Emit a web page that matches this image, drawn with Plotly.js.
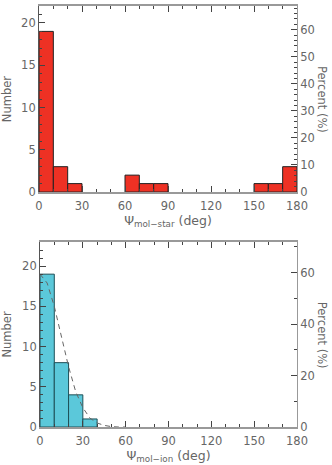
<!DOCTYPE html>
<html>
<head>
<meta charset="utf-8">
<script src="https://cdn.plot.ly/plotly-3.0.1.min.js"></script>
<style>
  html, body { margin: 0; padding: 0; background: #fff; }
  #graph { width: 332px; height: 465px; }
</style>
</head>
<body>
<div id="graph"></div>
<script>
// histogram bins (deg, bin centres) and counts
var starBins = [5, 15, 25, 65, 75, 85, 155, 165, 175];
var starCounts = [19, 3, 1, 2, 1, 1, 1, 1, 3];
var ionBins = [5, 15, 25, 35];
var ionCounts = [19, 8, 4, 1];
// dashed fit
var fitX = [0, 5, 10, 15, 20, 25, 30, 35, 40, 45, 50, 55, 60];
var fitY = [19, 17.9, 15.0, 11.3, 7.5, 4.4, 2.4, 1.1, 0.5, 0.2, 0.05, 0, 0];
var total = 32;

var grey = '#666';
var fnt = {family: 'DejaVu Sans', size: 11.5, color: grey};

function xAx(dom, anchor, title) {
  return {
    domain: dom, anchor: anchor, range: [0, 180], tickvals: [0, 30, 60, 90, 120, 150, 180],
    ticks: 'inside', ticklen: 6, tickcolor: '#444', mirror: 'ticks',
    minor: {dtick: 10, ticks: 'inside', ticklen: 3, tickcolor: '#444'},
    showline: true, linecolor: '#999', linewidth: 2, showgrid: false, zeroline: false,
    tickfont: fnt, ticklabelstandoff: 2,
    title: {text: title, font: {family: 'DejaVu Sans', size: 12.5, color: grey}, standoff: 3}
  };
}
function yAx(dom, anchor, top) {
  return {
    domain: dom, anchor: anchor, range: [0, top], dtick: 5,
    ticks: 'inside', ticklen: 6, tickcolor: '#444',
    minor: {dtick: 1, ticks: 'inside', ticklen: 3, tickcolor: '#444'},
    showline: true, linecolor: '#555', linewidth: 1, showgrid: false, zeroline: false,
    tickfont: fnt,
    title: {text: 'Number', font: {family: 'DejaVu Sans', size: 11.5, color: grey}, standoff: 8}
  };
}
function pAx(ov, anchor, top, dt, mdt) {
  return {
    overlaying: ov, anchor: anchor, side: 'right', range: [0, top * 100 / total], dtick: dt,
    ticks: 'inside', ticklen: 6, tickcolor: '#444',
    minor: {dtick: mdt, ticks: 'inside', ticklen: 3, tickcolor: '#444'},
    showline: true, linecolor: '#999', linewidth: 1, showgrid: false, zeroline: false,
    tickfont: fnt
  };
}

var data = [
  {type: 'bar', x: starBins, y: starCounts, width: 10, xaxis: 'x', yaxis: 'y',
   marker: {color: '#ee3124', line: {color: '#222', width: 1}}, showlegend: false},
  {type: 'scatter', mode: 'lines', x: [0, 180], y: [0, 0], xaxis: 'x', yaxis: 'y2',
   line: {width: 0}, hoverinfo: 'skip', showlegend: false},
  {type: 'bar', x: ionBins, y: ionCounts, width: 10, xaxis: 'x2', yaxis: 'y3',
   marker: {color: '#5bc8da', line: {color: '#1d4f57', width: 1}}, showlegend: false},
  {type: 'scatter', mode: 'lines', x: fitX, y: fitY, xaxis: 'x2', yaxis: 'y3',
   line: {color: '#666', width: 1, dash: '5px,4px'}, showlegend: false},
  {type: 'scatter', mode: 'lines', x: [0, 180], y: [0, 0], xaxis: 'x2', yaxis: 'y4',
   line: {width: 0}, hoverinfo: 'skip', showlegend: false}
];

var layout = {
  width: 332, height: 465,
  margin: {l: 0, r: 0, t: 0, b: 0},
  paper_bgcolor: '#fff', plot_bgcolor: '#fff',
  bargap: 0,
  xaxis: xAx([0.1175, 0.8946], 'y', 'Ψ<sub>mol−star</sub> (deg)'),
  yaxis: yAx([0.587, 0.987], 'x', 22),
  yaxis2: pAx('y', 'x', 22, 10, 2),
  xaxis2: xAx([0.1205, 0.8946], 'y3', 'Ψ<sub>mol−ion</sub> (deg)'),
  yaxis3: yAx([0.0817, 0.4796], 'x2', 23),
  yaxis4: pAx('y3', 'x2', 23, 20, 10),
  annotations: [
    {text: 'Percent (%)', textangle: 90, xref: 'paper', yref: 'paper', x: 0.97, y: 0.787,
     showarrow: false, xanchor: 'center', yanchor: 'middle', font: {family: 'DejaVu Sans', size: 11.5, color: grey}},
    {text: 'Percent (%)', textangle: 90, xref: 'paper', yref: 'paper', x: 0.97, y: 0.28,
     showarrow: false, xanchor: 'center', yanchor: 'middle', font: {family: 'DejaVu Sans', size: 11.5, color: grey}}
  ]
};

Plotly.newPlot('graph', data, layout, {displayModeBar: false, staticPlot: true});
</script>
</body>
</html>
